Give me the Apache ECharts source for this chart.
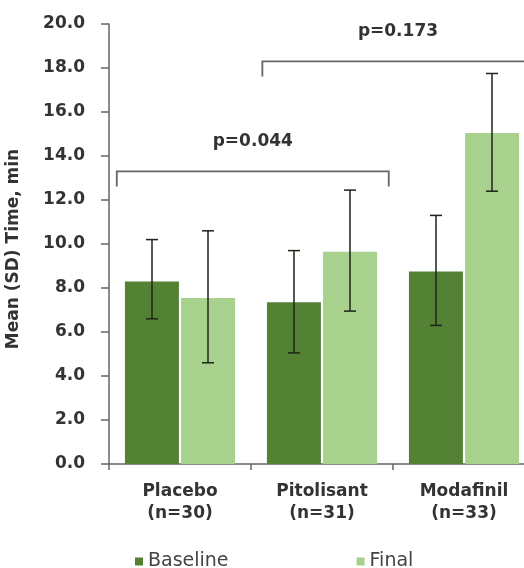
<!DOCTYPE html>
<html>
<head>
<meta charset="utf-8">
<script src="https://cdn.jsdelivr.net/npm/echarts@6/dist/echarts.min.js"></script>
<style>html,body{margin:0;padding:0;background:#fff;}#c{width:524px;height:568px;}</style>
</head>
<body>
<div id="c"></div>
<script>
const categories = ['Placebo\n(n=30)', 'Pitolisant\n(n=31)', 'Modafinil\n(n=33)'];
const seriesNames = ['Baseline', 'Final'];
const baselineMean = [8.3, 7.35, 8.75];
const baselineLow = [6.6, 5.05, 6.3];
const baselineHigh = [10.2, 9.7, 11.3];
const finalMean = [7.55, 9.65, 15.05];
const finalLow = [4.6, 6.95, 12.4];
const finalHigh = [10.6, 12.45, 17.75];
const yMin = 0, yMax = 20, yInterval = 2;
const pLabels = ['p=0.044', 'p=0.173'];
const bracketFrom = [0, 1];
const bracketTo = [1, 2];
const bracketLevel = [13.3, 18.3];

const FONT = 'DejaVu Sans';
const BAR_W = 54;
const BAR_OFF = 28;
const bracketOffsets = [[-0.445, 0.47], [-0.42, 0.49]];

const chart = echarts.init(document.getElementById('c'), null, {renderer: 'canvas'});

function errData(low, high) {
  return categories.map((c, i) => [i, low[i], high[i]]);
}
function errRender(offset) {
  return function (params, api) {
    const lo = api.coord([api.value(0), api.value(1)]);
    const hi = api.coord([api.value(0), api.value(2)]);
    const x = lo[0] + offset;
    const st = {stroke: '#1e2418', lineWidth: 1.5};
    return {
      type: 'group',
      children: [
        {type: 'line', shape: {x1: x, y1: lo[1], x2: x, y2: hi[1]}, style: st},
        {type: 'line', shape: {x1: x - 6, y1: lo[1], x2: x + 6, y2: lo[1]}, style: st},
        {type: 'line', shape: {x1: x - 6, y1: hi[1], x2: x + 6, y2: hi[1]}, style: st}
      ]
    };
  };
}

const bracketData = pLabels.map((p, i) => [bracketFrom[i], bracketTo[i], bracketLevel[i], i]);

const option = {
  animation: false,
  textStyle: {fontFamily: FONT},
  grid: {left: 109, top: 24, width: 426, bottom: 104, containLabel: false, outerBoundsMode: 'none'},
  legend: {
    data: seriesNames,
    icon: 'rect',
    itemWidth: 8,
    itemHeight: 8,
    itemGap: 128,
    left: 130,
    top: 547,
    textStyle: {fontSize: 19, color: '#444', fontFamily: FONT}
  },
  xAxis: {
    type: 'category',
    data: categories,
    axisLine: {show: true, lineStyle: {color: '#666', width: 1.5}},
    axisTick: {show: true, length: 6, alignWithLabel: false, lineStyle: {color: '#666', width: 1.5}},
    axisLabel: {fontSize: 17, fontWeight: 'bold', color: '#333', lineHeight: 22, margin: 17, fontFamily: FONT}
  },
  yAxis: {
    type: 'value',
    min: yMin, max: yMax, interval: yInterval,
    name: 'Mean (SD) Time, min',
    nameLocation: 'middle',
    nameGap: 87,
    nameRotate: 90,
    nameTextStyle: {fontSize: 17, fontWeight: 'bold', color: '#333', fontFamily: FONT, padding: [0, 10, 0, 0]},
    axisLine: {show: true, lineStyle: {color: '#666', width: 1.5}},
    axisTick: {show: true, length: 8, inside: false, lineStyle: {color: '#666', width: 1.5}},
    splitLine: {show: false},
    axisLabel: {fontSize: 17, fontWeight: 'bold', color: '#333', margin: 24, fontFamily: FONT,
      formatter: v => v.toFixed(1)}
  },
  series: [
    {name: seriesNames[0], type: 'bar', data: baselineMean, barWidth: BAR_W, barGap: '4%',
      itemStyle: {color: '#548235'}},
    {name: seriesNames[1], type: 'bar', data: finalMean, barWidth: BAR_W, barGap: '4%',
      itemStyle: {color: '#A9D18E'}},
    {type: 'custom', data: errData(baselineLow, baselineHigh), renderItem: errRender(-BAR_OFF),
      encode: {x: 0, y: [1, 2]}, z: 5, silent: true},
    {type: 'custom', data: errData(finalLow, finalHigh), renderItem: errRender(BAR_OFF),
      encode: {x: 0, y: [1, 2]}, z: 5, silent: true},
    {type: 'custom', data: bracketData, clip: false, z: 6, silent: true,
      encode: {x: [0, 1], y: 2},
      renderItem: function (params, api) {
        const idx = api.value(3);
        const band = api.size([1, 0])[0];
        const a = api.coord([api.value(0), api.value(2)]);
        const b = api.coord([api.value(1), api.value(2)]);
        const x1 = a[0] + bracketOffsets[idx][0] * band;
        const x2 = b[0] + bracketOffsets[idx][1] * band;
        const y = a[1];
        return {
          type: 'group',
          children: [
            {type: 'polyline', shape: {points: [[x1, y + 15], [x1, y], [x2, y], [x2, y + 15]]},
              style: {stroke: '#666', lineWidth: 1.8, fill: null}},
            {type: 'text', x: (x1 + x2) / 2, y: y - 30,
              style: {text: pLabels[idx], fill: '#333', fontSize: 17, fontWeight: 'bold', fontFamily: FONT,
                align: 'center', verticalAlign: 'middle'}}
          ]
        };
      }}
  ]
};
chart.setOption(option);
</script>
</body>
</html>
